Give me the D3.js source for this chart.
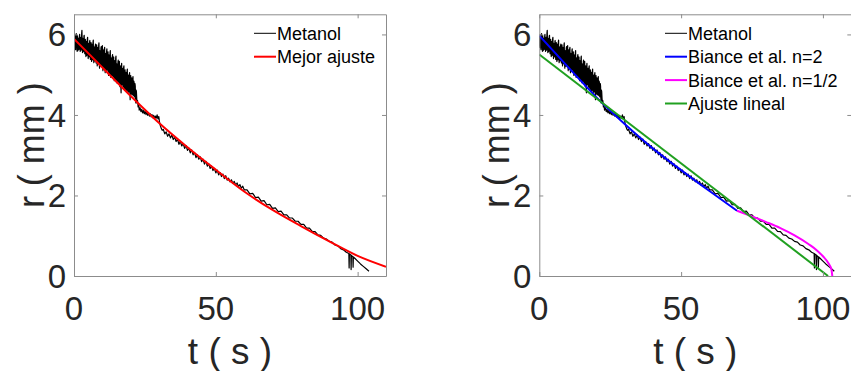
<!DOCTYPE html>
<html><head><meta charset="utf-8">
<script src="https://cdn.jsdelivr.net/npm/d3@7"></script>
<style>
body{margin:0;background:#fff}
svg{display:block}
text{font-family:"Liberation Sans",Arial,Helvetica,sans-serif}
</style></head>
<body><svg id="fig" width="851" height="371"></svg>
<script>
// axis ticks
const xTicks = [0, 50, 100];
const yTicks = [0, 2, 4, 6];

// measured radius r (mm) against time t (s)
const metanol = [
[0.0,5.95],[0.1,5.72],[0.2,5.68],[0.3,5.99],[0.4,5.90],[0.5,5.64],[0.6,5.62],[0.7,5.93],[0.8,6.02],[0.9,5.70],[1.0,5.74],[1.1,5.58],[1.2,5.97],[1.3,5.80],[1.4,5.60],[1.5,5.91],[1.6,5.88],[1.7,5.63],[1.8,5.70],[1.9,5.96],
[2.0,6.00],[2.1,5.66],[2.2,5.58],[2.3,5.85],[2.4,5.93],[2.5,5.61],[2.6,5.66],[2.7,6.03],[2.8,6.10],[2.9,5.74],[3.0,5.55],[3.1,5.90],[3.2,5.84],[3.3,5.57],[3.4,5.72],[3.5,5.95],[3.6,5.98],[3.7,5.65],[3.8,5.52],[3.9,5.80],
[4.0,5.88],[4.1,5.56],[4.2,5.45],[4.3,5.83],[4.4,5.79],[4.5,5.48],[4.6,5.60],[4.7,5.89],[4.8,5.93],[4.9,5.55],[5.0,5.40],[5.1,5.78],[5.2,5.71],[5.3,5.44],[5.4,5.52],[5.5,5.82],[5.6,5.85],[5.7,5.47],[5.8,5.38],[5.9,5.74],
[6.0,5.80],[6.1,5.42],[6.2,5.33],[6.3,5.76],[6.4,5.70],[6.5,5.37],[6.6,5.48],[6.7,5.81],[6.8,5.86],[6.9,5.40],[7.0,5.30],[7.1,5.69],[7.2,5.66],[7.3,5.34],[7.4,5.44],[7.5,5.72],[7.6,5.76],[7.7,5.38],[7.8,5.29],[7.9,5.65],
[8.0,5.74],[8.1,5.31],[8.2,5.22],[8.3,5.68],[8.4,5.62],[8.5,5.27],[8.6,5.40],[8.7,5.73],[8.8,5.79],[8.9,5.30],[9.0,5.16],[9.1,5.60],[9.2,5.55],[9.3,5.21],[9.4,5.36],[9.5,5.66],[9.6,5.70],[9.7,5.25],[9.8,5.20],[9.9,5.61],
[10.0,5.72],[10.1,5.20],[10.2,5.10],[10.3,5.62],[10.4,5.58],[10.5,5.14],[10.6,5.30],[10.7,5.64],[10.8,5.68],[10.9,5.16],[11.0,5.05],[11.1,5.53],[11.2,5.50],[11.3,5.09],[11.4,5.26],[11.5,5.59],[11.6,5.64],[11.7,5.11],[11.8,5.12],[11.9,5.50],
[12.0,5.57],[12.1,5.05],[12.2,4.98],[12.3,5.49],[12.4,5.45],[12.5,5.01],[12.6,5.16],[12.7,5.55],[12.8,5.60],[12.9,5.00],[13.0,4.93],[13.1,5.42],[13.2,5.38],[13.3,4.97],[13.4,5.10],[13.5,5.46],[13.6,5.50],[13.7,4.99],[13.8,4.95],[13.9,5.40],
[14.0,5.44],[14.1,4.92],[14.2,4.85],[14.3,5.35],[14.4,5.30],[14.5,4.88],[14.6,5.02],[14.7,5.41],[14.8,5.46],[14.9,4.86],[15.0,4.80],[15.1,5.27],[15.2,5.22],[15.3,4.83],[15.4,4.96],[15.5,5.32],[15.6,5.36],[15.7,4.84],[15.8,4.78],[15.9,5.26],
[16.0,5.33],[16.1,4.79],[16.2,4.70],[16.3,5.22],[16.4,5.18],[16.5,4.73],[16.6,4.55],[16.7,5.20],[16.8,5.28],[16.9,4.77],[17.0,4.75],[17.1,5.16],[17.2,5.10],[17.3,4.69],[17.4,4.86],[17.5,5.18],[17.6,5.22],[17.7,4.70],[17.8,4.66],[17.9,5.10],
[18.0,5.12],[18.1,4.64],[18.2,4.60],[18.3,5.06],[18.4,5.02],[18.5,4.61],[18.6,4.74],[18.7,5.09],[18.8,5.14],[18.9,4.63],[19.0,4.55],[19.1,4.99],[19.2,4.95],[19.3,4.57],[19.4,4.70],[19.5,5.01],[19.6,5.05],[19.7,4.58],[19.8,4.38],[19.9,4.93],
[20.0,4.98],[20.1,4.55],[20.2,4.52],[20.3,4.92],[20.4,4.90],[20.5,4.50],[20.6,4.62],[20.7,4.91],[20.8,4.95],[20.9,4.49],[21.0,4.48],[21.1,4.84],[21.2,4.80],[21.3,4.45],[21.4,4.55],[21.5,4.78],[21.6,4.72],[21.7,4.40],[21.8,4.30],[21.9,4.62],
[22.0,4.58],[22.2,4.30],[22.4,4.36],[22.6,4.20],[22.8,4.27],[23.0,4.12],[23.3,4.18],[23.6,4.08],[23.9,4.14],[24.2,4.05],
[24.5,4.11],[24.8,4.03],[25.1,4.09],[25.4,4.01],[25.7,4.07],[26.0,3.99],[26.3,4.05],[26.6,3.97],[26.9,4.03],[27.2,3.95],
[27.5,4.01],[27.8,3.93],[28.1,3.99],[28.4,3.91],[28.7,3.97],[29.0,3.92],[29.3,4.00],[29.6,3.90],[29.9,3.96],[30.2,3.80],
[30.5,3.72],[30.8,3.66],[31.1,3.62],
[31.5,3.64],[32.0,3.53],[32.5,3.58],[33.0,3.47],[33.5,3.53],[34.0,3.43],[34.5,3.50],[35.0,3.39],[35.5,3.45],[36.0,3.34],
[36.5,3.40],[37.0,3.27],[37.5,3.34],[38.0,3.23],[38.5,3.29],[39.0,3.17],[39.5,3.24],[40.0,3.12],[40.5,3.18],[41.0,3.06],
[41.5,3.13],[42.0,3.01],[42.5,3.07],[43.0,2.94],[43.5,3.01],[44.0,2.90],[44.5,2.96],[45.0,2.84],[45.5,2.90],[46.0,2.78],
[46.5,2.85],[47.0,2.73],[47.5,2.79],[48.0,2.67],[48.5,2.73],[49.0,2.62],[49.5,2.67],[50.0,2.56],[50.5,2.63],[51.0,2.51],
[51.5,2.57],[52.0,2.47],[52.5,2.53],[53.0,2.42],[53.5,2.49],[54.0,2.38],[54.5,2.43],[55.0,2.34],[55.5,2.39],[56.0,2.30],
[56.5,2.35],[57.0,2.26],[57.5,2.31],[58.0,2.22],[58.5,2.27],[59.0,2.18],[59.5,2.23],[60.0,2.14],
[61,2.14],[62,2.04],[63,2.05],[64,1.95],[65,1.96],[66,1.86],[67,1.87],[68,1.77],[69,1.78],[70,1.68],
[71,1.69],[72,1.60],[73,1.61],[74,1.52],[75,1.52],[76,1.44],[77,1.44],[78,1.36],[79,1.36],[80,1.28],
[81,1.28],[82,1.19],[83,1.19],[84,1.11],[85,1.10],[86,1.02],[87,1.01],[88,0.94],[89,0.92],[90,0.86],
[91,0.84],[92,0.77],[93,0.75],[94,0.68],[95,0.65],[96,0.59],[96.9,0.56],
[97.0,0.20],[97.1,0.55],[97.6,0.52],[97.7,0.16],[97.8,0.51],[98.3,0.48],[98.4,0.22],[98.5,0.47],
[99.0,0.44],[100,0.37],[101,0.30],[102,0.24],[103,0.18],[104,0.12]
];

// best fit curve
const mejorAjuste = [[0,5.89],[10,5.18],[20,4.47],[30,3.80],[40,3.20],[50,2.64],[60,2.10],[70,1.64],[80,1.24],[90,0.86],[100,0.50],[110,0.23]];

// Biance et al. model, n = 2 (early regime)
const bianceN2 = [[0,5.97],[10,5.20],[20,4.45],[30,3.78],[40,3.17],[50,2.63],[60,2.11],[69.7,1.62]];

// Biance et al. model, n = 1/2 (late regime)
const bianceN12 = [[69.7,1.62],[75,1.48],[80,1.34],[85,1.19],[90,1.01],[95,0.79],[98,0.63],[100,0.49],[102,0.31],[103,0.16],[103.3,0]];

// linear fit
const ajusteLineal = [[0,5.50],[101.8,0]];

const legendLeft = ["Metanol", "Mejor ajuste"];
const legendRight = ["Metanol", "Biance et al. n=2", "Biance et al. n=1/2", "Ajuste lineal"];

const svg = d3.select("#fig");
const TXT = "#262626", BOX = "#8c8c8c";
const plotTop = 14.3, plotBottom = 276, plotW = 312;

function panel(x0, series, legend, id) {
  const x = d3.scaleLinear().domain([0, 110]).range([x0, x0 + plotW]);
  const y = d3.scaleLinear().domain([0, 6.5]).range([plotBottom, plotTop]);
  const g = svg.append("g");

  g.append("clipPath").attr("id", id).append("rect")
    .attr("x", x0).attr("y", plotTop).attr("width", plotW).attr("height", plotBottom - plotTop);

  const plot = g.append("g").attr("clip-path", `url(#${id})`);
  series.forEach(s => {
    const line = d3.line().x(d => x(d[0])).y(d => y(d[1]))
      .curve(s.smooth ? d3.curveMonotoneX : d3.curveLinear);
    plot.append("path").datum(s.data)
      .attr("fill", "none").attr("stroke", s.color).attr("stroke-width", s.width)
      .attr("stroke-linejoin", "round")
      .attr("d", line);
  });

  // box and inward ticks on all sides
  const axB = d3.axisBottom(x).tickValues(xTicks).tickSizeInner(-4).tickSizeOuter(0).tickFormat("");
  const axT = d3.axisTop(x).tickValues(xTicks).tickSizeInner(-4).tickSizeOuter(0).tickFormat("");
  const axL = d3.axisLeft(y).tickValues(yTicks).tickSizeInner(-4).tickSizeOuter(0).tickFormat("");
  const axR = d3.axisRight(y).tickValues(yTicks).tickSizeInner(-4).tickSizeOuter(0).tickFormat("");
  [[axB, `translate(0,${plotBottom})`], [axT, `translate(0,${plotTop})`],
   [axL, `translate(${x0},0)`], [axR, `translate(${x0 + plotW},0)`]].forEach(([a, t]) => {
    const ga = g.append("g").attr("transform", t).call(a);
    ga.selectAll("path,line").attr("stroke", BOX).attr("stroke-width", 1);
  });

  // tick labels
  g.selectAll(".xl").data(xTicks).join("text").attr("class", "xl")
    .attr("x", d => x(d)).attr("y", plotBottom + 44)
    .attr("text-anchor", "middle").attr("font-size", 33).attr("fill", TXT).text(d => d);
  g.selectAll(".yl").data(yTicks).join("text").attr("class", "yl")
    .attr("x", x0 - 8).attr("y", d => y(d) + 12)
    .attr("text-anchor", "end").attr("font-size", 33).attr("fill", TXT).text(d => d);

  // axis titles
  g.append("text").attr("x", x0 + 156).attr("y", 364)
    .attr("text-anchor", "middle").attr("font-size", 37).attr("fill", TXT).text("t ( s )");
  g.append("text").attr("transform", `translate(${x0 - 30},${(plotTop + plotBottom) / 2}) rotate(-90)`)
    .attr("text-anchor", "middle").attr("font-size", 36).attr("fill", TXT).text("r ( mm )");

  // legend
  const lx = legend.x;
  legend.items.forEach((it, i) => {
    const ly = 33.3 + i * 23.4;
    g.append("line").attr("x1", lx).attr("x2", lx + 22).attr("y1", ly).attr("y2", ly)
      .attr("stroke", it.color).attr("stroke-width", it.width);
    g.append("text").attr("x", lx + 23).attr("y", ly + 6.5)
      .attr("font-size", 18).attr("fill", "#000").text(it.label);
  });
}

panel(74, [
  {data: metanol, color: "#000", width: 1.2},
  {data: mejorAjuste, color: "#ff0000", width: 2, smooth: true}
], {x: 254, items: [
  {label: legendLeft[0], color: "#000", width: 1},
  {label: legendLeft[1], color: "#ff0000", width: 2}
]}, "clipL");

panel(539.3, [
  {data: metanol, color: "#000", width: 1.2},
  {data: bianceN2, color: "#0000ff", width: 2, smooth: true},
  {data: bianceN12, color: "#ff00ff", width: 2, smooth: true},
  {data: ajusteLineal, color: "#20a020", width: 2}
], {x: 665, items: [
  {label: legendRight[0], color: "#000", width: 1},
  {label: legendRight[1], color: "#0000ff", width: 2},
  {label: legendRight[2], color: "#ff00ff", width: 2},
  {label: legendRight[3], color: "#20a020", width: 2}
]}, "clipR");
</script>
</body></html>
